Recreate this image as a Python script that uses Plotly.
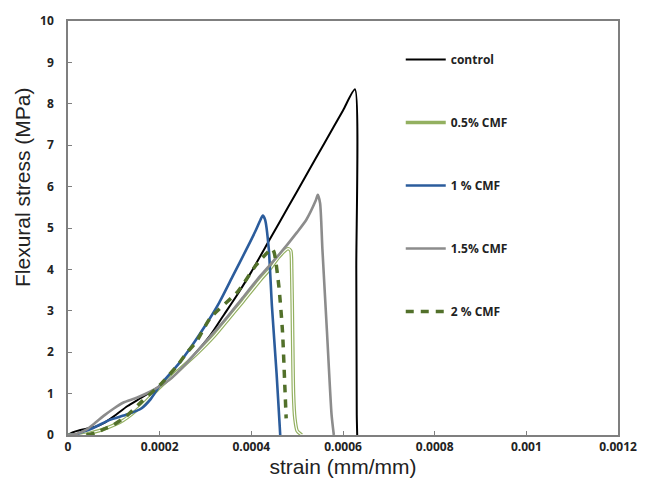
import plotly.graph_objects as go

# ---- data (strain in mm/mm, stress in MPa) ----
control_strain = [0, 0.00001, 0.00002, 0.00004, 0.00006, 0.00008, 0.0001, 0.00013, 0.00016, 0.0002,
                  0.00024, 0.00028, 0.00031, 0.00034, 0.00037, 0.0004, 0.00044, 0.00048, 0.00052,
                  0.00056, 0.0006, 0.000626, 0.000629, 0.00063, 0.000631]
control_stress = [0, 0.06, 0.1, 0.15, 0.2, 0.3, 0.45, 0.7, 0.9, 1.18,
                  1.55, 2.0, 2.4, 2.9, 3.4, 3.94, 4.72, 5.5, 6.28,
                  7.06, 7.84, 8.35, 4.0, 0.5, 0]

cmf05_strain = [0, 0.00003, 0.00005, 0.00008, 0.00012, 0.00016, 0.0002, 0.00024, 0.00028, 0.00032,
                0.00035, 0.00038, 0.00042, 0.00044, 0.00046, 0.00048, 0.000486, 0.000488, 0.00049,
                0.000492, 0.000495, 0.0005, 0.00051]
cmf05_stress = [0, 0.0, 0.05, 0.15, 0.35, 0.7, 1.15, 1.55, 1.95, 2.4,
                2.8, 3.2, 3.75, 4.0, 4.3, 4.5, 4.45, 4.0, 2.5,
                1.0, 0.4, 0.1, 0]

cmf1_strain = [0, 0.00002, 0.000026, 0.000055, 0.00009, 0.00013, 0.00016, 0.00018, 0.0002, 0.00024,
               0.00027, 0.0003, 0.00033, 0.00036, 0.00039, 0.00041, 0.00042, 0.000425, 0.00043,
               0.000438, 0.000445, 0.000455, 0.000462, 0.000463]
cmf1_stress = [0, 0.02, 0.05, 0.17, 0.36, 0.5, 0.64, 0.86, 1.19, 1.7,
               2.15, 2.65, 3.2, 3.85, 4.5, 4.95, 5.2, 5.3, 5.2,
               4.5, 3.1, 1.5, 0.2, 0]

cmf15_strain = [0, 0.00002, 0.00004, 0.00006, 0.00008, 0.0001, 0.00012, 0.00015, 0.00018, 0.0002,
                0.00022, 0.00026, 0.0003, 0.00034, 0.00038, 0.00042, 0.00046, 0.0005, 0.00052,
                0.00054, 0.000545, 0.00055, 0.000555, 0.000565, 0.000575, 0.00058]
cmf15_stress = [0, 0.03, 0.13, 0.3, 0.48, 0.64, 0.78, 0.9, 1.05, 1.18,
                1.32, 1.75, 2.25, 2.75, 3.3, 3.85, 4.35, 4.9, 5.2,
                5.65, 5.8, 5.6, 4.5, 2.5, 0.5, 0]

cmf2_strain = [0.00004, 0.00006, 0.00008, 0.0001, 0.00013, 0.00016, 0.0002, 0.00024, 0.00026, 0.00028,
               0.00031, 0.00037, 0.00041, 0.00043, 0.000445, 0.00045, 0.00046, 0.000468, 0.000473, 0.000476]
cmf2_stress = [0, 0.05, 0.15, 0.25, 0.48, 0.8, 1.2, 1.7, 2.0, 2.25,
               2.82, 3.46, 4.1, 4.35, 4.5, 4.4, 3.6, 2.5, 1.2, 0.4]

x_ticks = [0, 0.0002, 0.0004, 0.0006, 0.0008, 0.001, 0.0012]
x_tick_labels = ["0", "0.0002", "0.0004", "0.0006", "0.0008", "0.001", "0.0012"]
y_ticks = list(range(0, 11))

SM = 0.6

fig = go.Figure()

fig.add_trace(go.Scatter(x=control_strain, y=control_stress, mode="lines", name="control",
                         legendgroup="a", line=dict(color="#000000", width=2, shape="spline", smoothing=SM)))
fig.add_trace(go.Scatter(x=cmf05_strain, y=cmf05_stress, mode="lines", name="0.5% CMF",
                         legendgroup="b", line=dict(color="#93b060", width=3.6, shape="spline", smoothing=SM)))
fig.add_trace(go.Scatter(x=cmf05_strain, y=cmf05_stress, mode="lines", name="0.5% CMF inner",
                         showlegend=False, hoverinfo="skip", legendgroup="b",
                         line=dict(color="#ffffff", width=1.2, shape="spline", smoothing=SM)))
fig.add_trace(go.Scatter(x=cmf1_strain, y=cmf1_stress, mode="lines", name="1 % CMF",
                         legendgroup="c", line=dict(color="#2b5c9c", width=2.6, shape="spline", smoothing=SM)))
fig.add_trace(go.Scatter(x=cmf15_strain, y=cmf15_stress, mode="lines", name="1.5% CMF",
                         legendgroup="d", line=dict(color="#8c8c8c", width=2.6, shape="spline", smoothing=SM)))
fig.add_trace(go.Scatter(x=cmf2_strain, y=cmf2_stress, mode="lines", name="2 % CMF",
                         legendgroup="e", line=dict(color="#52702a", width=3.5, dash="8px,7px",
                                                    shape="spline", smoothing=SM)))

axis_common = dict(showline=True, linecolor="#7f7f7f", linewidth=1.5, mirror=True,
                   ticks="inside", ticklen=4, tickcolor="#7f7f7f", showgrid=False, zeroline=False,
                   tickfont=dict(family="Open Sans", size=12, color="#222222", weight="bold"))

fig.update_layout(
    width=650, height=490,
    margin=dict(l=68, r=32, t=16, b=55),
    paper_bgcolor="white", plot_bgcolor="white",
    xaxis=dict(range=[0, 0.0012], tickvals=x_ticks, ticktext=x_tick_labels,
               title=dict(text="strain (mm/mm)", standoff=4,
                          font=dict(family="Liberation Sans", size=21, color="#222222")),
               **axis_common),
    yaxis=dict(range=[0, 10], tickvals=y_ticks, ticklabelstandoff=10, **axis_common),
    legend=dict(x=0.605, y=0.942, xanchor="left", yanchor="top", tracegroupgap=44,
                bgcolor="rgba(0,0,0,0)", itemwidth=40,
                font=dict(family="Open Sans", size=12, color="#222222", weight="bold")),
    showlegend=True,
    annotations=[dict(text="Flexural stress (MPa)", textangle=-90, showarrow=False,
                      xref="paper", yref="paper", x=(23 - 68) / 550, y=(435 - 184) / 419,
                      xanchor="center", yanchor="middle",
                      font=dict(family="Liberation Sans", size=21, color="#222222"))],
)

fig.write_html("out.html")
